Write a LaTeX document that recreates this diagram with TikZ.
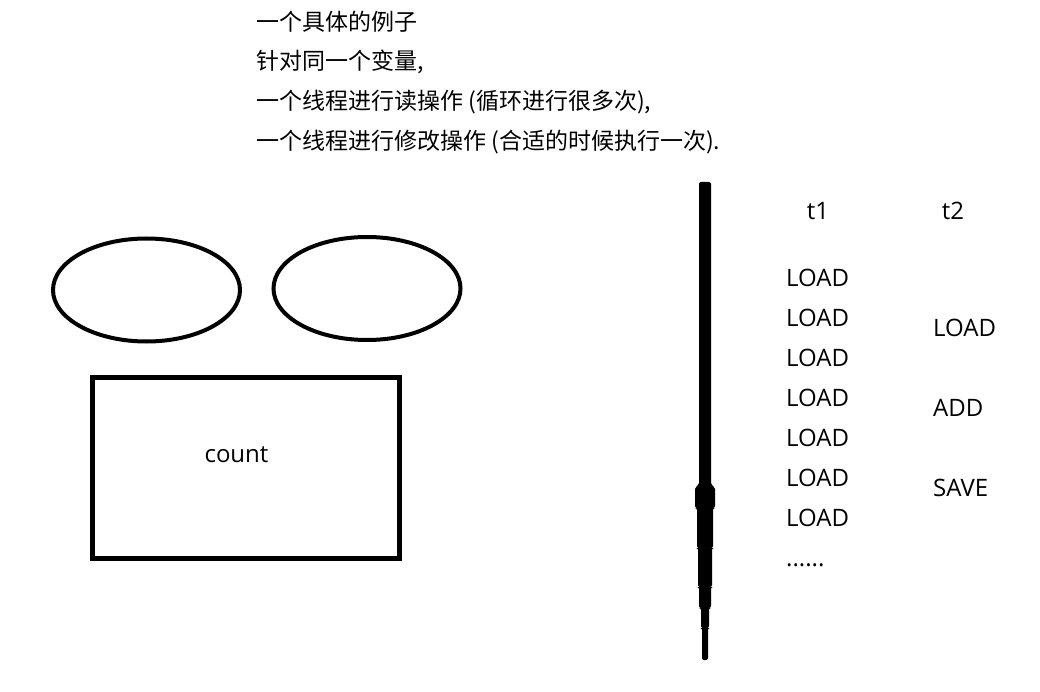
\documentclass[tikz,border=0pt]{standalone}
\usepackage{fontspec}
\setmainfont{Open Sans}
\newfontfamily\cjk{Noto Sans CJK SC}
\usetikzlibrary{positioning, shapes.geometric}

\tikzset{
  txt/.style={inner sep=0pt, font=\fontsize{24}{28}\selectfont},
  note/.style={inner sep=0pt, font=\cjk\fontsize{23}{28}\selectfont},
  blob/.style={ellipse, draw, line width=4pt, minimum width=187pt, minimum height=103pt},
  memory/.style={rectangle, draw, line width=5pt, minimum width=307pt, minimum height=181pt}
}

\begin{document}
\begin{tikzpicture}[x=1pt, y=-1pt, node distance=40pt, on grid]
   \useasboundingbox (0,0) rectangle (1040,692);

   % description
   \node[note, anchor=west] (n1) at (256,22) {一个具体的例子};
   \node[note] (n2) [below=of n1.west, anchor=west] {针对同一个变量,};
   \node[note] (n3) [below=of n2.west, anchor=west] {一个线程进行读操作 (循环进行很多次),};
   \node[note] (n4) [below=of n3.west, anchor=west] {一个线程进行修改操作 (合适的时候执行一次).};

   % threads and shared variable
   \node[blob] (th1) at (146.5,290) {};
   \node[blob] (th2) at (367,288.5) {};
   \node[memory] (mem) at (246,468) {};
   \node[txt] (cnt) at (236.5,455) {count};

   % time axis
   \fill[rounded corners=2pt] (699,182) -- (711,182) -- (711,485) -- (715,487) -- (715,508)
      -- (713,508) -- (713,548) -- (712,548) -- (712,587) -- (711,587) -- (711,608)
      -- (709,608) -- (709,628) -- (708,628) -- (708,660) -- (702,660) -- (702,628)
      -- (701,628) -- (701,608) -- (699,608) -- (699,587) -- (698,587) -- (698,548)
      -- (697,548) -- (697,508) -- (695,508) -- (695,487) -- (699,485) -- cycle;

   % t1 column
   \node[txt] (t1) at (818,211) {t1};
   \node[txt, anchor=west] (a1) at (786,278) {LOAD};
   \node[txt] (a2) [below=of a1] {LOAD};
   \node[txt] (a3) [below=of a2] {LOAD};
   \node[txt] (a4) [below=of a3] {LOAD};
   \node[txt] (a5) [below=of a4] {LOAD};
   \node[txt] (a6) [below=of a5] {LOAD};
   \node[txt] (a7) [below=of a6] {LOAD};
   \node[txt] (dots) [below=47pt of a7.west, anchor=west] {......};

   % t2 column
   \node[txt] (t2) at (953,211) {t2};
   \node[txt, anchor=west] (b1) at (933,328) {LOAD};
   \node[txt] (b2) [below=80pt of b1.west, anchor=west] {ADD};
   \node[txt] (b3) [below=80pt of b2.west, anchor=west] {SAVE};
\end{tikzpicture}
\end{document}
